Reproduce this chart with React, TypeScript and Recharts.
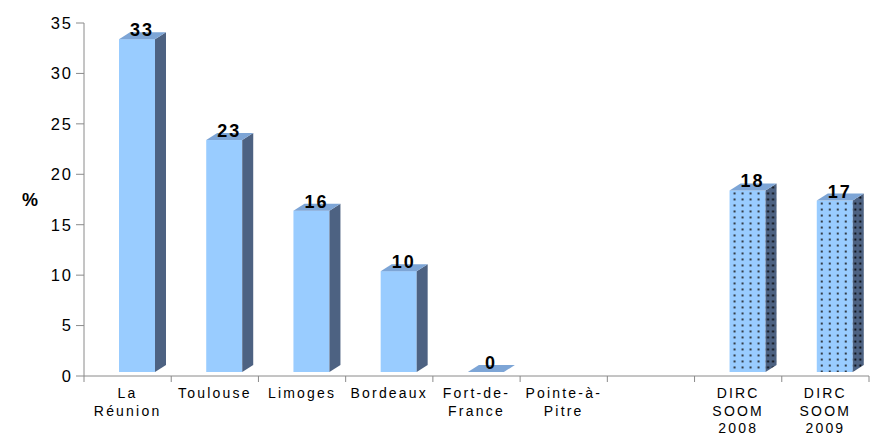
import { BarChart, Bar, XAxis, YAxis, LabelList, Label } from "recharts";

const categories = [
  "La\nRéunion",
  "Toulouse",
  "Limoges",
  "Bordeaux",
  "Fort-de-\nFrance",
  "Pointe-à-\nPitre",
  "",
  "DIRC\nSOOM\n2008",
  "DIRC\nSOOM\n2009",
];
const values: (number | null)[] = [33, 23, 16, 10, 0, null, null, 18, 17];
const dotted = [false, false, false, false, false, false, false, true, true];
const yTicks = [0, 5, 10, 15, 20, 25, 30, 35];

const data = categories.map((name, i) => ({ name, value: values[i], dotted: dotted[i] }));

const FRONT = "#99CCFF";
const SIDE = "#4D6282";
const TOP = "#7DA5D6";
const AXIS = "#8a8a8a";
const FONT = "'Liberation Sans', Arial, sans-serif";

const BAND = 785 / 9;
const SHIFT = 9; // front face sits right of the category centre
const LIFT = 4; // front face raised off the floor
const DX = 11;
const DY = 7;

function Bar3D(props: any) {
  const { x, y, width, height, payload, index } = props;
  if (payload.value == null) return null;
  const l = x + SHIFT;
  const r = l + width;
  const t = y - LIFT;
  const b = y + height - LIFT;
  const fid = `dots-front-${index}`;
  const sid = `dots-side-${index}`;
  const top = `${l},${t} ${r},${t} ${r + DX},${t - DY} ${l + DX},${t - DY}`;
  if (height <= 0) {
    return <polygon points={top} fill={TOP} />;
  }
  return (
    <g>
      {payload.dotted && (
        <defs>
          <pattern id={fid} width={8} height={6} patternUnits="userSpaceOnUse" x={l + 2} y={t}>
            <rect width={8} height={6} fill={FRONT} />
            <circle cx={3} cy={3} r={1.1} fill="#1a1a1a" />
          </pattern>
          <pattern id={sid} width={5} height={6} patternUnits="userSpaceOnUse" x={r} y={t}>
            <rect width={5} height={6} fill={SIDE} />
            <circle cx={2.5} cy={3} r={1.1} fill="#000" />
          </pattern>
        </defs>
      )}
      <rect x={l} y={t} width={width} height={b - t} fill={payload.dotted ? `url(#${fid})` : FRONT} />
      <polygon
        points={`${r},${t} ${r + DX},${t - DY} ${r + DX},${b - DY} ${r},${b}`}
        fill={payload.dotted ? `url(#${sid})` : SIDE}
      />
      <polygon points={top} fill={TOP} />
    </g>
  );
}

function ValueLabel(props: any) {
  const { x, y, value } = props;
  if (value == null) return null;
  return (
    <text
      x={x + 32}
      y={y - LIFT - 3}
      textAnchor="middle"
      fontFamily={FONT}
      fontWeight="bold"
      fontSize={18}
      letterSpacing={2}
      fill="#000"
    >
      {value}
    </text>
  );
}

function CategoryTick(props: any) {
  const { x, y, payload, index } = props;
  const lines = String(payload.value).split("\n");
  return (
    <g>
      <line x1={x - BAND / 2} y1={y} x2={x - BAND / 2} y2={y + 6} stroke={AXIS} />
      {index === categories.length - 1 && (
        <line x1={x + BAND / 2} y1={y} x2={x + BAND / 2} y2={y + 6} stroke={AXIS} />
      )}
      <text textAnchor="middle" fontFamily={FONT} fontSize={14} letterSpacing={2.2} fill="#000">
        {lines.map((ln, i) => (
          <tspan key={i} x={x} y={y + 22 + i * 17.5}>
            {ln}
          </tspan>
        ))}
      </text>
    </g>
  );
}

export default function App() {
  return (
    <div style={{ position: "absolute", left: 0, top: 0, background: "#fff" }}>
      <BarChart
        width={878}
        height={446}
        data={data}
        margin={{ top: 23, right: 9, left: 0, bottom: 0 }}
        barSize={36}
      >
        <XAxis
          dataKey="name"
          height={70}
          interval={0}
          tickLine={false}
          tickSize={0}
          tickMargin={0}
          axisLine={{ stroke: AXIS }}
          tick={<CategoryTick />}
        />
        <YAxis
          width={84}
          domain={[0, 35]}
          ticks={yTicks}
          interval={0}
          tickSize={8}
          tickMargin={3}
          axisLine={{ stroke: AXIS }}
          tickLine={{ stroke: AXIS }}
          tick={{ fill: "#000", fontFamily: FONT, fontSize: 16.5, letterSpacing: 2 }}
        >
          <Label
            value="%"
            position="insideLeft"
            offset={22}
            style={{ fontFamily: FONT, fontWeight: "bold", fontSize: 18, fill: "#000" }}
          />
        </YAxis>
        <Bar dataKey="value" shape={<Bar3D />} isAnimationActive={false}>
          <LabelList dataKey="value" content={<ValueLabel />} />
        </Bar>
      </BarChart>
    </div>
  );
}
